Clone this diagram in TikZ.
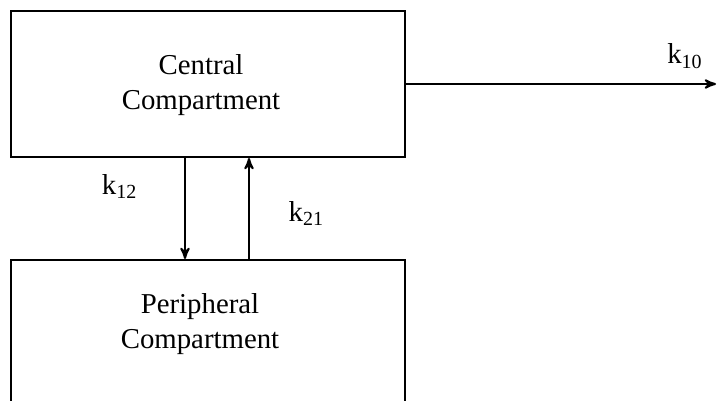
\documentclass[tikz,border=0pt]{standalone}
\usepackage{fontspec}
\setmainfont{Liberation Serif}
\usetikzlibrary{arrows,positioning}

\begin{document}
\begin{tikzpicture}[x=0.5pt,y=-0.5pt,>=stealth',line width=1pt,node distance=50.5pt,
	comp/.style={draw,rectangle,minimum width=197pt},
	comptext/.style={align=center,font=\fontsize{14.4}{17.5}\selectfont},
	rate/.style={font=\fontsize{14.4}{17}\selectfont}]
\useasboundingbox (0,0) rectangle (719,401);

\node[comp,minimum height=73pt]   (central) at (208,84)     {};
	\node[comptext,xshift=-3.5pt,yshift=-0.5pt]   (centraltext) at (central)    {Central\\Compartment};
 \node[comp,minimum height=91pt]    (peripheral) [below=of central]   {};
	\node[comptext,xshift=-4pt]   (periphtext) [below=13.5pt of peripheral.north]    {Peripheral\\Compartment};
\coordinate[right=155pt of central.east] (out);

	\path[->] (central.east) edge node[rate,above=4pt,pos=0.9]{k$_{\mathrm{10}}$} (out)
		([xshift=-11.5pt]central.south) edge node[rate,left=20pt,pos=0.28]{k$_{\mathrm{12}}$} ([xshift=-11.5pt]peripheral.north)
		([xshift=20.5pt]peripheral.north) edge node[rate,right=16pt,pos=0.45]{k$_{\mathrm{21}}$} ([xshift=20.5pt]central.south);

\end{tikzpicture}
\end{document}
